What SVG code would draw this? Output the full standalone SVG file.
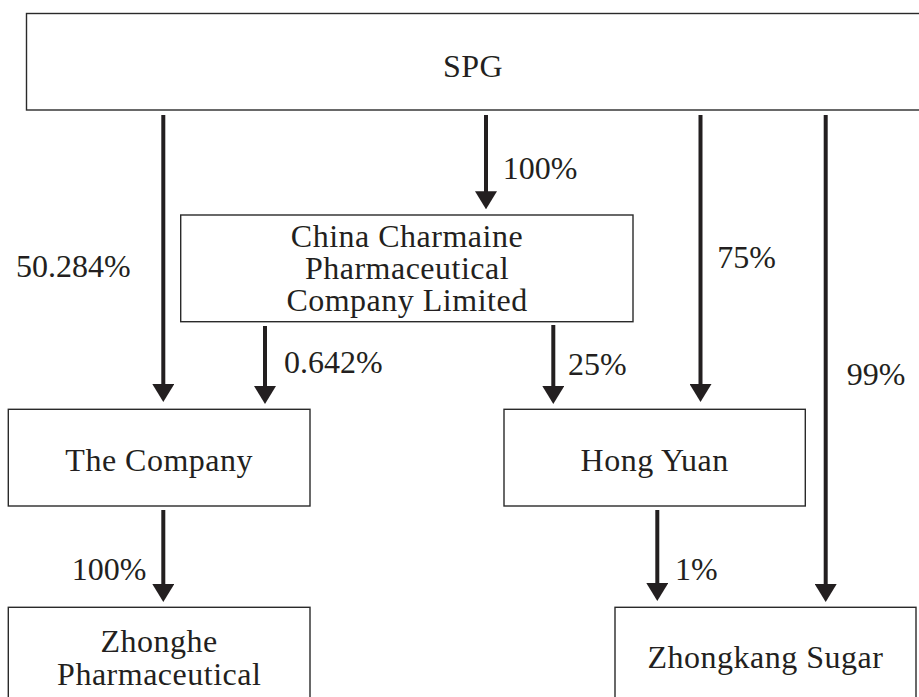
<svg xmlns="http://www.w3.org/2000/svg" width="919" height="697" viewBox="0 0 919 697">
<style>
.box{fill:#fff;stroke:#2a2a2a;stroke-width:1.4}
.nt{font-family:"Liberation Serif","Times New Roman",serif;font-size:32px;fill:#231f20;text-anchor:middle;letter-spacing:0.5px}
.lb{font-family:"Liberation Serif","Times New Roman",serif;font-size:32px;fill:#231f20}
.ar{stroke:#231f20;stroke-width:4;fill:none;marker-end:url(#ah)}
</style>
<defs>
<marker id="ah" markerUnits="userSpaceOnUse" markerWidth="18" markerHeight="22" viewBox="0 0 18 22" refX="1" refY="11" orient="auto">
<path d="M0,0 L18,11 L0,22 Z" fill="#231f20"/>
</marker>
</defs>
<rect width="919" height="697" fill="#fff"/>
<g id="spg"><rect class="box" x="26.5" y="13.5" width="900" height="96.5"/><text class="nt" x="473" y="77">SPG</text></g>
<g id="charmaine"><rect class="box" x="180.7" y="215" width="452.3" height="106.7"/>
<text class="nt" x="407" y="246.7">China Charmaine</text>
<text class="nt" x="407" y="279">Pharmaceutical</text>
<text class="nt" x="407" y="310.5">Company Limited</text></g>
<g id="company"><rect class="box" x="8.3" y="409.3" width="301.7" height="96.7"/><text class="nt" x="159.2" y="471">The Company</text></g>
<g id="hongyuan"><rect class="box" x="504" y="409.3" width="301.3" height="96.7"/><text class="nt" x="654.7" y="471">Hong Yuan</text></g>
<g id="zhonghe"><rect class="box" x="8.3" y="607.3" width="301.7" height="100"/>
<text class="nt" x="159.2" y="651.7">Zhonghe</text>
<text class="nt" x="159.2" y="685">Pharmaceutical</text></g>
<g id="zhongkang"><rect class="box" x="615" y="607.3" width="301" height="100"/><text class="nt" x="765.5" y="668.3">Zhongkang Sugar</text></g>
<g id="connectors">
<line class="ar" x1="163.3" y1="115" x2="163.3" y2="385"/>
<line class="ar" x1="486" y1="115" x2="486" y2="192.3"/>
<line class="ar" x1="700.5" y1="115" x2="700.5" y2="385"/>
<line class="ar" x1="825.7" y1="115" x2="825.7" y2="585"/>
<line class="ar" x1="265" y1="326" x2="265" y2="387"/>
<line class="ar" x1="553.3" y1="325" x2="553.3" y2="387"/>
<line class="ar" x1="163.3" y1="510" x2="163.3" y2="585"/>
<line class="ar" x1="657.3" y1="510" x2="657.3" y2="584"/>
<text class="lb" x="502.7" y="179">100%</text>
<text class="lb" x="16" y="276.7">50.284%</text>
<text class="lb" x="717.3" y="268.3">75%</text>
<text class="lb" x="284" y="373.3">0.642%</text>
<text class="lb" x="568" y="375">25%</text>
<text class="lb" x="846.7" y="385">99%</text>
<text class="lb" x="71.7" y="580">100%</text>
<text class="lb" x="675" y="580">1%</text>
</g>
</svg>
